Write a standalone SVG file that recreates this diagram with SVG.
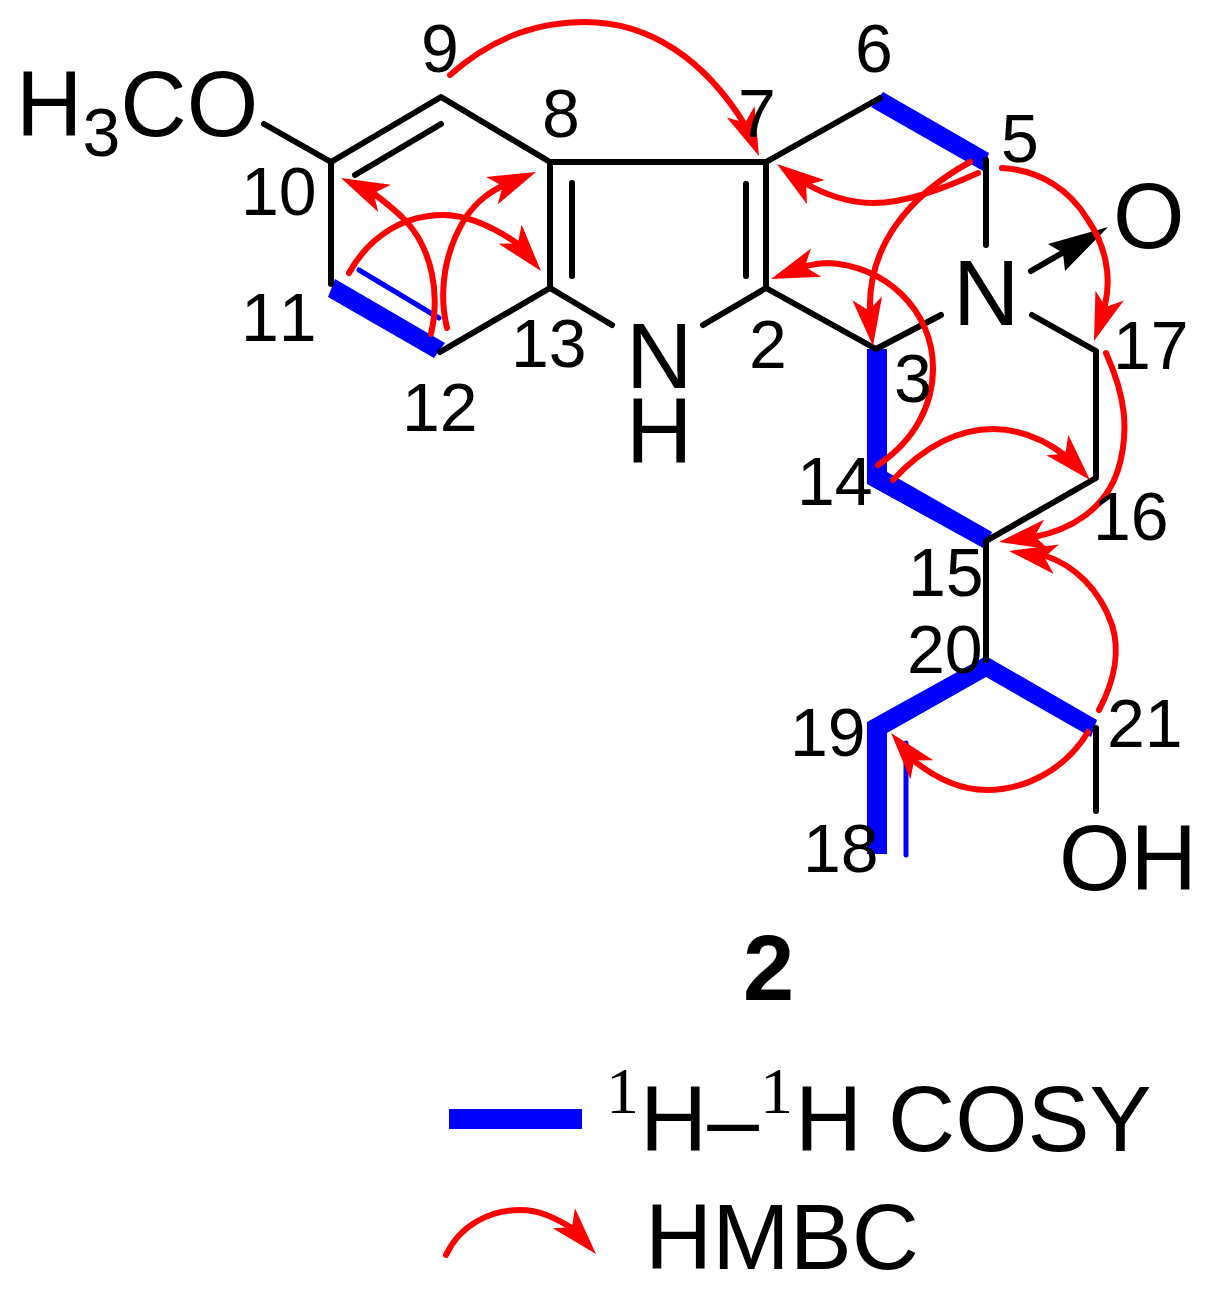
<svg xmlns="http://www.w3.org/2000/svg" xmlns:xlink="http://www.w3.org/1999/xlink" width="1217" height="1305" viewBox="0 0 1217 1305">
<style>
.b{fill:none;stroke:#000;stroke-width:6;stroke-linecap:round;stroke-linejoin:round}
.c{fill:#00f;stroke:none}
.t{fill:none;stroke:#00f;stroke-width:5;stroke-linecap:round}
.r{fill:none;stroke:#f00;stroke-width:6;stroke-linecap:round}
.h{fill:#f00}
text{font-family:"Liberation Sans",Arial,sans-serif;fill:#000}
.n{font-size:68px;font-kerning:none}
.a{font-size:92px}
.l{font-size:93px}
.s{font-family:"Liberation Serif","Times New Roman",serif;font-size:66px}
</style>
<defs><path id="hd" d="M0 0L-48 -15L-36 0L-48 15Z"/></defs>
<rect width="1217" height="1305" fill="#fff"/>
<g id="cosy-bonds">
<path class="c" d="M335 279L328 297L434 358L445 343Z"/>
<path class="t" d="M359 270L439 318"/>
<path class="c" d="M883 92L871 107L983 171L989 153Z"/>
<path class="c" d="M867 349L887 349L887 472L992 532L985 549L867 484Z"/>
<path class="c" d="M986 656L1097 720L1091 737L986 677L887 733L887 854L867 854L867 722Z"/>
<path class="t" d="M906 743L906 855"/>
</g>
<g id="connectors">
<path class="b" d="M264 124L331 162L441 97L550 162L550 288L440 352"/>
<path class="b" d="M355 175L441 124"/>
<path class="b" d="M331 162L331 284"/>
<path class="b" d="M572 183L572 276"/>
<path class="b" d="M550 162L766 162L766 288L876 349L941 315"/>
<path class="b" d="M746 184L746 276"/>
<path class="b" d="M766 162L880 98"/>
<path class="b" d="M550 288L612 325"/>
<path class="b" d="M766 288L703 325"/>
<path class="b" d="M986 160L986 245"/>
<path class="b" d="M1032 315L1096 351L1096 478L986 541L986 660"/>
<path class="b" d="M1096 728L1096 811"/>
<path class="b" d="M1031 271L1064 252"/>
<path fill="#000" d="M1108 227L1048 244L1063 253L1065 271Z"/>
</g>
<g id="hmbc-arrows">
<path class="r" d="M450 75C495 35 540 22 585 22C650 22 705 60 745 125"/>
<use xlink:href="#hd" href="#hd" class="h" transform="translate(759 156) rotate(67.5)"/>
<path class="r" d="M978 173C940 190 905 203 873 203C850 203 825 195 805 183"/>
<use xlink:href="#hd" href="#hd" class="h" transform="translate(777 164) rotate(-144)"/>
<path class="r" d="M970 162C910 195 868 245 870 310"/>
<use xlink:href="#hd" href="#hd" class="h" transform="translate(873 346) rotate(83)"/>
<path class="r" d="M878 465C915 440 933 405 933 368C933 310 885 265 827 263C820 263 812 265 805 266"/>
<use xlink:href="#hd" href="#hd" class="h" transform="translate(771 279) rotate(160)"/>
<path class="r" d="M1002 168C1040 170 1070 190 1088 220C1105 245 1112 275 1105 305"/>
<use xlink:href="#hd" href="#hd" class="h" transform="translate(1094 341) rotate(109)"/>
<path class="r" d="M1106 353C1125 395 1130 430 1118 470C1105 510 1070 530 1034 537"/>
<use xlink:href="#hd" href="#hd" class="h" transform="translate(999 542) rotate(171)"/>
<path class="r" d="M893 480C925 445 960 429 993 429C1020 429 1045 440 1066 456"/>
<use xlink:href="#hd" href="#hd" class="h" transform="translate(1090 480) rotate(47)"/>
<path class="r" d="M1099 710C1115 680 1120 650 1112 625C1100 590 1075 565 1043 555"/>
<use xlink:href="#hd" href="#hd" class="h" transform="translate(1009 551) rotate(-170)"/>
<path class="r" d="M1088 732C1065 770 1025 790 987 790C960 790 935 778 913 760"/>
<use xlink:href="#hd" href="#hd" class="h" transform="translate(891 733) rotate(-130)"/>
<path class="r" d="M431 334C440 295 433 250 405 220C395 210 385 202 373 193"/>
<use xlink:href="#hd" href="#hd" class="h" transform="translate(341 178) rotate(-155)"/>
<path class="r" d="M447 328C438 290 445 250 466 217C478 200 490 192 504 185"/>
<use xlink:href="#hd" href="#hd" class="h" transform="translate(536 172) rotate(-23)"/>
<path class="r" d="M349 273C370 235 405 215 443 215C470 215 495 228 518 244"/>
<use xlink:href="#hd" href="#hd" class="h" transform="translate(541 271) rotate(50)"/>
</g>
<g id="atoms">
<text class="a" x="16" y="136">H<tspan font-size="68" dy="20">3</tspan><tspan dy="-20">CO</tspan></text>
<text class="a" x="953" y="325">N</text>
<text class="a" x="1113" y="248">O</text>
<text class="a" x="626" y="388">N</text>
<text class="a" x="626" y="463">H</text>
<text class="a" x="1059" y="890">OH</text>
</g>
<g id="numbers">
<text class="n" x="421" y="72">9</text>
<text class="n" x="542" y="137">8</text>
<text class="n" x="241" y="215">10</text>
<text class="n" x="241" y="341">11</text>
<text class="n" x="402" y="431">12</text>
<text class="n" x="511" y="367">13</text>
<text class="n" x="738" y="137">7</text>
<text class="n" x="855" y="72">6</text>
<text class="n" x="1001" y="162">5</text>
<text class="n" x="749" y="368">2</text>
<text class="n" x="894" y="402">3</text>
<text class="n" x="1113" y="369">17</text>
<text class="n" x="797" y="505">14</text>
<text class="n" x="1093" y="540">16</text>
<text class="n" x="908" y="596">15</text>
<text class="n" x="907" y="673">20</text>
<text class="n" x="790" y="756">19</text>
<text class="n" x="803" y="872">18</text>
<text class="n" x="1107" y="747">21</text>
</g>
<g id="compound-label"><text x="743" y="1000" font-size="92" font-weight="700">2</text></g>
<g id="legend-cosy">
<rect x="449" y="1109" width="133" height="20" fill="#00f"/>
<text class="s" x="606" y="1113">1</text>
<text class="l" x="640" y="1151">H–</text>
<text class="s" x="760" y="1113">1</text>
<text class="l" x="795" y="1151">H COSY</text>
</g>
<g id="legend-hmbc">
<path class="r" d="M446 1255C460 1225 490 1210 520 1210C540 1210 555 1218 572 1228"/>
<use xlink:href="#hd" href="#hd" class="h" transform="translate(596 1254) rotate(48)"/>
<text class="l" x="645" y="1269">HMBC</text>
</g>
</svg>
